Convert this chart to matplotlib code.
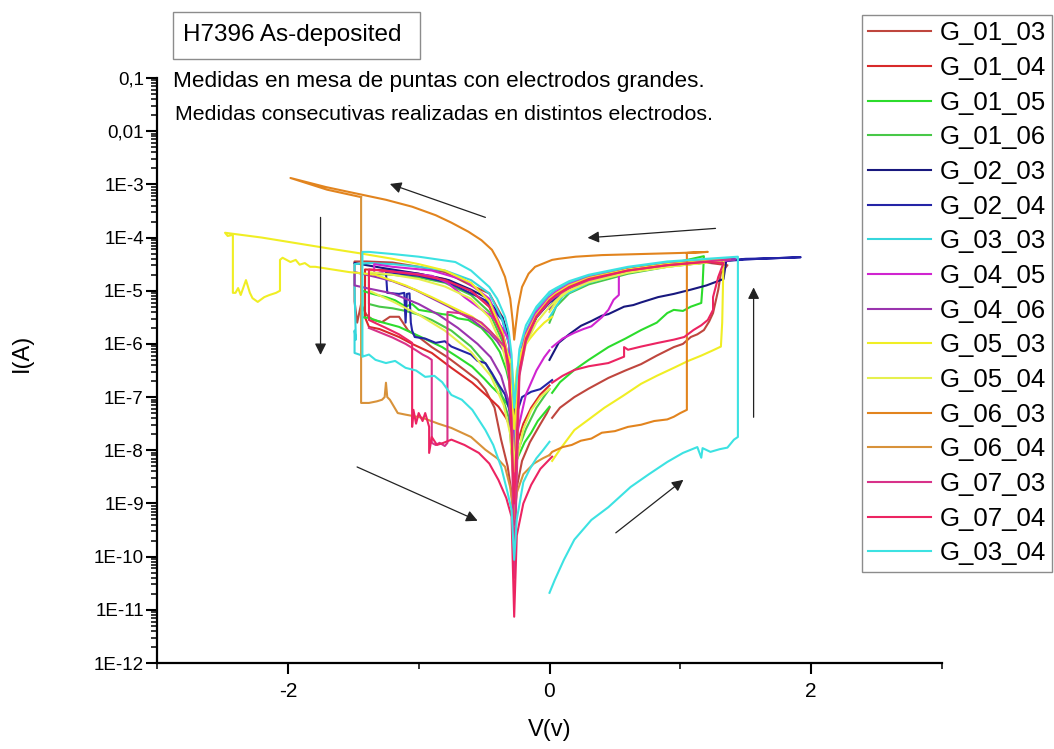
import matplotlib
matplotlib.use('Agg')
import matplotlib.pyplot as plt
import numpy as np
from matplotlib.ticker import LogLocator, NullFormatter
from matplotlib.patches import Rectangle

# I-V loops, one list of (V, log10 I) points per electrode
g_01_03 = [
    (0.02, -7.39), (0.08, -7.20), (0.19, -7.00), (0.30, -6.84), (0.45, -6.64), (0.58, -6.50), (0.70, -6.38),
    (0.82, -6.22), (0.95, -6.06), (1.02, -6.00), (1.08, -5.87), (1.13, -5.82), (1.18, -5.74), (1.22, -5.58),
    (1.25, -5.42), (1.29, -4.98), (1.31, -4.67), (1.36, -4.52),
    (1.20, -4.47), (0.90, -4.54), (0.60, -4.64), (0.30, -4.81), (0.15, -4.96), (0.05, -5.12), (0.00, -5.22),
    (-0.10, -5.50), (-0.18, -5.88), (-0.23, -6.40), (-0.27, -8.60), (-0.31, -5.90), (-0.36, -5.50),
    (-0.46, -5.05), (-0.60, -4.90), (-0.80, -4.65), (-1.00, -4.55), (-1.20, -4.47), (-1.40, -4.45), (-1.49, -4.45),
    (-1.49, -5.20), (-1.47, -5.60), (-1.44, -5.25), (-1.40, -5.45), (-1.35, -5.55), (-1.28, -5.59), (-1.22, -5.49),
    (-1.15, -5.49), (-1.08, -5.75), (-1.00, -5.87), (-0.90, -6.06), (-0.78, -6.25), (-0.65, -6.49), (-0.55, -6.68),
    (-0.49, -6.86), (-0.42, -7.20), (-0.37, -7.80), (-0.32, -8.30), (-0.29, -8.80), (-0.27, -9.40), (-0.25, -8.70),
    (-0.21, -8.20), (-0.15, -7.85), (-0.08, -7.55), (-0.02, -7.30), (0.00, -7.20),
]
g_01_04 = [
    (1.36, -4.43), (1.20, -4.46), (0.90, -4.52), (0.60, -4.60), (0.30, -4.76), (0.15, -4.90), (0.05, -5.05),
    (0.00, -5.15), (-0.10, -5.45), (-0.18, -5.85), (-0.23, -6.35), (-0.27, -7.90), (-0.31, -6.40), (-0.36, -5.85),
    (-0.46, -5.30), (-0.60, -5.00), (-0.80, -4.78), (-1.00, -4.68), (-1.20, -4.62), (-1.41, -4.60),
    (-1.41, -5.50), (-1.38, -5.68), (-1.30, -5.72), (-1.22, -5.80), (-1.15, -5.87), (-1.05, -6.00), (-0.90, -6.17),
    (-0.75, -6.45), (-0.59, -6.73), (-0.49, -6.95), (-0.39, -7.18), (-0.33, -7.40), (-0.29, -7.62), (-0.27, -8.40),
    (-0.25, -7.90), (-0.20, -7.50), (-0.14, -7.20), (-0.07, -6.95), (0.00, -6.78),
]
g_01_05 = [
    (0.02, -6.92), (0.08, -6.72), (0.19, -6.49), (0.30, -6.30), (0.45, -6.06), (0.58, -5.90), (0.70, -5.74),
    (0.82, -5.60), (0.90, -5.42), (0.95, -5.36), (1.02, -5.38), (1.08, -5.30), (1.16, -5.23), (1.17, -4.90),
    (1.18, -4.35),
    (1.00, -4.45), (0.80, -4.52), (0.60, -4.60), (0.30, -4.76), (0.15, -4.90), (0.05, -5.05), (0.00, -5.15),
    (-0.10, -5.45), (-0.18, -5.90), (-0.23, -6.40), (-0.27, -7.40), (-0.29, -6.90), (-0.33, -6.49), (-0.38, -6.15),
    (-0.44, -5.92), (-0.52, -5.70), (-0.62, -5.55), (-0.70, -5.52), (-0.75, -5.46), (-0.82, -5.44), (-0.90, -5.40),
    (-1.00, -5.36), (-1.05, -5.25), (-1.10, -5.30), (-1.18, -5.18), (-1.25, -5.12), (-1.32, -5.08), (-1.38, -5.04),
    (-1.43, -5.00),
    (-1.43, -5.50), (-1.38, -5.51), (-1.30, -5.58), (-1.15, -5.68), (-1.00, -5.85), (-0.82, -6.06), (-0.70, -6.25),
    (-0.59, -6.43), (-0.50, -6.65), (-0.44, -6.81), (-0.36, -7.00), (-0.31, -7.18), (-0.28, -7.50), (-0.27, -8.30),
    (-0.24, -8.12), (-0.19, -7.85), (-0.14, -7.67), (-0.09, -7.45), (-0.04, -7.30), (0.00, -7.18),
]
g_01_06 = [
    (0.00, -5.60), (0.05, -5.30), (0.15, -5.05), (0.30, -4.88), (0.60, -4.68), (0.90, -4.55), (1.20, -4.47),
    (1.42, -4.42),
    (1.20, -4.45), (0.90, -4.52), (0.60, -4.62), (0.30, -4.80), (0.15, -4.95), (0.05, -5.10), (0.00, -5.20),
    (-0.10, -5.50), (-0.18, -5.92), (-0.23, -6.45), (-0.27, -8.10), (-0.31, -6.50), (-0.36, -5.95), (-0.46, -5.40),
    (-0.60, -5.08), (-0.80, -4.85), (-1.00, -4.75), (-1.20, -4.70), (-1.38, -4.68),
    (-1.38, -5.25), (-1.30, -5.30), (-1.20, -5.33), (-1.10, -5.38), (-1.00, -5.45), (-0.90, -5.55), (-0.75, -5.75),
    (-0.60, -6.05), (-0.48, -6.40), (-0.38, -6.85), (-0.31, -7.40), (-0.27, -8.60), (-0.24, -8.00), (-0.18, -7.60),
    (-0.10, -7.20), (-0.03, -6.95), (0.00, -6.85),
]
g_02_03 = [
    (0.00, -6.30), (0.07, -5.98), (0.15, -5.82), (0.24, -5.66), (0.32, -5.57), (0.40, -5.47), (0.45, -5.44),
    (0.57, -5.30), (0.64, -5.27), (0.70, -5.22), (0.83, -5.12), (0.95, -5.06), (1.08, -4.98), (1.20, -4.90),
    (1.33, -4.78), (1.35, -4.45),
    (1.20, -4.47), (0.90, -4.52), (0.60, -4.62), (0.30, -4.78), (0.15, -4.92), (0.05, -5.08), (0.00, -5.17),
    (-0.10, -5.45), (-0.18, -5.85), (-0.23, -6.35), (-0.27, -7.40), (-0.31, -5.90), (-0.36, -5.50), (-0.49, -5.12),
    (-0.60, -4.98), (-0.77, -4.80), (-1.00, -4.68), (-1.28, -4.57), (-1.49, -4.48),
]
g_02_04 = [
    (0.00, -5.30), (0.10, -5.00), (0.30, -4.75), (0.60, -4.58), (1.00, -4.48), (1.40, -4.42), (1.50, -4.40),
    (1.70, -4.39), (1.92, -4.37),
    (1.60, -4.40), (1.20, -4.46), (0.90, -4.53), (0.60, -4.63), (0.30, -4.80), (0.15, -4.95), (0.05, -5.12),
    (0.00, -5.22), (-0.10, -5.50), (-0.18, -5.90), (-0.23, -6.45), (-0.27, -7.80), (-0.31, -6.00), (-0.36, -5.55),
    (-0.49, -5.18), (-0.77, -4.85), (-1.00, -4.72), (-1.25, -4.65),
    (-1.24, -5.04), (-1.15, -5.06), (-1.11, -5.04), (-1.10, -5.60), (-1.09, -5.06), (-1.07, -5.05), (-1.06, -5.60),
    (-1.05, -5.75), (-1.03, -5.87), (-0.95, -5.90), (-0.87, -5.98), (-0.80, -5.95), (-0.75, -6.05), (-0.69, -6.11),
    (-0.60, -6.20), (-0.55, -6.32), (-0.49, -6.36), (-0.44, -6.55), (-0.40, -6.72), (-0.34, -6.95), (-0.30, -7.30),
    (-0.27, -7.90), (-0.25, -7.30), (-0.21, -7.00), (-0.14, -6.90), (-0.07, -6.85), (0.02, -6.68),
]
g_03_03 = [
    (0.00, -5.50), (0.10, -5.10), (0.30, -4.85), (0.60, -4.65), (1.00, -4.50), (1.42, -4.40),
    (1.20, -4.42), (0.90, -4.48), (0.60, -4.57), (0.30, -4.72), (0.15, -4.85), (0.05, -4.98), (0.00, -5.07),
    (-0.10, -5.35), (-0.18, -5.75), (-0.23, -6.25), (-0.27, -8.00), (-0.31, -6.00), (-0.36, -5.55), (-0.46, -5.05),
    (-0.60, -4.80), (-0.80, -4.62), (-1.00, -4.55), (-1.20, -4.50), (-1.38, -4.48), (-1.49, -4.50),
    (-1.49, -4.98), (-1.48, -5.92), (-1.49, -5.75), (-1.49, -6.17), (-1.43, -6.22),
]
g_03_04 = [
    (0.00, -10.68), (0.04, -10.44), (0.11, -10.06), (0.19, -9.68), (0.32, -9.31), (0.45, -9.07), (0.62, -8.69),
    (0.76, -8.45), (0.90, -8.22), (1.02, -8.05), (1.13, -7.94), (1.16, -8.14), (1.17, -7.96), (1.23, -8.03),
    (1.30, -7.98), (1.36, -7.95), (1.41, -7.80), (1.44, -7.75), (1.44, -4.36),
    (1.20, -4.40), (0.90, -4.45), (0.60, -4.55), (0.30, -4.70), (0.15, -4.82), (0.05, -4.95), (0.00, -5.02),
    (-0.10, -5.30), (-0.18, -5.65), (-0.23, -6.10), (-0.27, -7.20), (-0.29, -6.20), (-0.31, -5.80), (-0.34, -5.49),
    (-0.40, -5.15), (-0.46, -4.93), (-0.60, -4.62), (-0.72, -4.46), (-1.00, -4.36), (-1.20, -4.31), (-1.38, -4.27),
    (-1.43, -4.27),
    (-1.43, -6.24), (-1.38, -6.20), (-1.33, -6.30), (-1.25, -6.36), (-1.18, -6.32), (-1.10, -6.45), (-1.02, -6.50),
    (-0.95, -6.62), (-0.88, -6.60), (-0.82, -6.72), (-0.75, -6.96), (-0.67, -7.05), (-0.59, -7.24), (-0.49, -7.62),
    (-0.43, -7.90), (-0.37, -8.31), (-0.32, -8.80), (-0.29, -9.12), (-0.27, -10.06), (-0.25, -9.30), (-0.20, -8.60),
    (-0.15, -8.35), (-0.10, -8.15), (-0.05, -8.00), (0.00, -7.84),
]
g_04_05 = [
    (0.02, -6.06), (0.10, -5.90), (0.19, -5.79), (0.26, -5.72), (0.32, -5.67), (0.40, -5.50), (0.45, -5.36),
    (0.49, -5.17), (0.53, -5.08), (0.53, -4.70), (0.70, -4.58), (1.00, -4.50), (1.40, -4.42),
    (1.20, -4.45), (0.90, -4.50), (0.60, -4.60), (0.30, -4.75), (0.15, -4.88), (0.05, -5.02), (0.00, -5.12),
    (-0.10, -5.40), (-0.18, -5.80), (-0.23, -6.30), (-0.27, -8.60), (-0.31, -6.30), (-0.36, -5.75), (-0.46, -5.15),
    (-0.65, -4.80), (-0.90, -4.62), (-1.20, -4.55), (-1.34, -4.50),
    (-1.34, -4.72), (-1.30, -4.66), (-1.25, -4.63), (-1.10, -4.66), (-0.90, -4.72), (-0.78, -4.85), (-0.65, -5.12),
    (-0.55, -5.30), (-0.44, -5.49), (-0.36, -5.70), (-0.31, -5.92), (-0.28, -6.80), (-0.27, -9.20), (-0.24, -7.60),
    (-0.18, -6.95), (-0.10, -6.50), (-0.04, -6.25), (0.00, -6.12),
]
g_04_06 = [
    (0.00, -5.35), (0.10, -5.00), (0.30, -4.78), (0.60, -4.60), (1.00, -4.48), (1.42, -4.41),
    (1.20, -4.44), (0.90, -4.50), (0.60, -4.60), (0.30, -4.77), (0.15, -4.92), (0.05, -5.07), (0.00, -5.18),
    (-0.10, -5.47), (-0.18, -5.88), (-0.23, -6.40), (-0.27, -8.30), (-0.30, -6.80), (-0.34, -6.17), (-0.40, -5.95),
    (-0.46, -5.79), (-0.59, -5.55), (-0.77, -5.30), (-1.03, -4.98), (-1.20, -4.82), (-1.33, -4.74), (-1.49, -4.65),
    (-1.49, -4.90), (-1.40, -4.95), (-1.20, -5.05), (-1.00, -5.25), (-0.85, -5.45), (-0.70, -5.70), (-0.55, -6.00),
    (-0.45, -6.25), (-0.37, -6.60), (-0.31, -7.10), (-0.27, -8.80),
]
g_05_03 = [
    (0.02, -8.20), (0.09, -7.95), (0.19, -7.62), (0.30, -7.42), (0.42, -7.20), (0.56, -6.98), (0.70, -6.75),
    (0.82, -6.60), (0.95, -6.45), (1.06, -6.32), (1.16, -6.22), (1.25, -6.12), (1.31, -6.05), (1.32, -5.60),
    (1.33, -4.42),
    (1.20, -4.44), (0.90, -4.50), (0.60, -4.60), (0.30, -4.76), (0.15, -4.90), (0.05, -5.05), (0.00, -5.15),
    (-0.10, -5.45), (-0.18, -5.85), (-0.23, -6.35), (-0.27, -7.60), (-0.31, -6.30), (-0.36, -5.78), (-0.46, -5.20),
    (-0.60, -4.85), (-0.80, -4.62), (-1.00, -4.50), (-1.20, -4.40), (-1.44, -4.30), (-1.70, -4.20), (-2.00, -4.08),
    (-2.20, -4.00), (-2.48, -3.91),
    (-2.46, -3.97), (-2.42, -3.95), (-2.42, -5.04), (-2.40, -5.04), (-2.38, -4.95), (-2.36, -5.08), (-2.32, -4.80),
    (-2.29, -5.04), (-2.27, -5.14), (-2.23, -5.21), (-2.18, -5.12), (-2.14, -5.08), (-2.09, -5.04), (-2.06, -5.00),
    (-2.06, -4.42), (-2.04, -4.38), (-1.98, -4.46), (-1.94, -4.42), (-1.91, -4.51), (-1.87, -4.48), (-1.83, -4.55),
    (-1.79, -4.55), (-1.53, -4.65), (-1.44, -4.67), (-1.33, -4.70), (-1.10, -4.90), (-0.90, -5.12), (-0.75, -5.30),
    (-0.59, -5.49), (-0.48, -5.70), (-0.39, -5.92), (-0.33, -6.15), (-0.29, -6.36), (-0.27, -7.00), (-0.25, -6.50),
    (-0.21, -6.11), (-0.15, -5.90), (-0.10, -5.75), (-0.04, -5.60), (0.02, -5.49),
]
g_05_04 = [
    (0.00, -5.40), (0.10, -5.05), (0.30, -4.82), (0.60, -4.64), (1.00, -4.52), (1.31, -4.44),
    (1.20, -4.47), (0.90, -4.55), (0.60, -4.66), (0.30, -4.84), (0.15, -5.00), (0.05, -5.18), (0.00, -5.30),
    (-0.10, -5.60), (-0.18, -6.00), (-0.23, -6.55), (-0.27, -8.40), (-0.31, -6.60), (-0.36, -6.05), (-0.46, -5.50),
    (-0.60, -5.15), (-0.80, -4.92), (-1.00, -4.78), (-1.20, -4.70), (-1.38, -4.65),
    (-1.38, -5.00), (-1.20, -5.20), (-1.00, -5.45), (-0.80, -5.75), (-0.60, -6.15), (-0.45, -6.60), (-0.35, -7.15),
    (-0.30, -7.70), (-0.27, -8.90), (-0.25, -8.20), (-0.20, -7.60), (-0.14, -7.25), (-0.07, -7.00), (0.00, -6.85),
]
g_06_03 = [
    (0.00, -8.09), (0.02, -8.03), (0.10, -7.94), (0.17, -7.90), (0.24, -7.82), (0.32, -7.78), (0.40, -7.67),
    (0.50, -7.64), (0.60, -7.56), (0.70, -7.52), (0.80, -7.45), (0.90, -7.42), (0.95, -7.37), (1.00, -7.30),
    (1.05, -7.24), (1.05, -4.29), (1.21, -4.27),
    (1.00, -4.29), (0.70, -4.31), (0.40, -4.33), (0.20, -4.36), (0.07, -4.40), (0.02, -4.42), (-0.06, -4.50),
    (-0.11, -4.55), (-0.16, -4.68), (-0.21, -4.93), (-0.24, -5.30), (-0.26, -5.70), (-0.27, -5.92), (-0.28, -5.60),
    (-0.30, -5.15), (-0.34, -4.74), (-0.39, -4.45), (-0.44, -4.23), (-0.52, -4.05), (-0.62, -3.89), (-0.75, -3.72),
    (-0.87, -3.58), (-1.05, -3.42), (-1.25, -3.29), (-1.50, -3.16), (-1.71, -3.05), (-1.98, -2.88), (-1.70, -3.10),
    (-1.44, -3.24),
]
g_06_04 = [
    (-1.44, -3.24), (-1.44, -7.11), (-1.38, -7.11), (-1.32, -7.08), (-1.28, -7.05), (-1.26, -7.00), (-1.25, -6.73),
    (-1.24, -7.00), (-1.22, -7.05), (-1.16, -7.30), (-1.10, -7.33), (-0.97, -7.39), (-0.85, -7.50), (-0.75, -7.58),
    (-0.60, -7.75), (-0.49, -7.99), (-0.40, -8.15), (-0.34, -8.31), (-0.30, -8.70), (-0.27, -9.30), (-0.25, -8.80),
    (-0.20, -8.45), (-0.12, -8.25), (-0.05, -8.15), (0.00, -8.09),
]
g_07_03 = [
    (1.38, -4.41), (1.20, -4.45), (0.90, -4.52), (0.60, -4.62), (0.30, -4.80), (0.15, -4.95), (0.05, -5.10),
    (0.00, -5.20), (-0.10, -5.50), (-0.18, -5.95), (-0.23, -6.60), (-0.27, -10.40), (-0.29, -7.40), (-0.31, -6.60),
    (-0.34, -6.06), (-0.40, -5.90), (-0.46, -5.74), (-0.52, -5.60), (-0.59, -5.51), (-0.69, -5.42), (-0.78, -5.40),
    (-0.78, -7.86), (-0.80, -7.92), (-0.84, -7.86), (-0.87, -7.90), (-0.90, -7.86), (-0.90, -6.30), (-0.93, -6.25),
    (-0.97, -6.20), (-1.02, -6.12), (-1.10, -6.00), (-1.20, -5.88), (-1.30, -5.78), (-1.38, -5.70),
]
g_07_04 = [
    (0.02, -6.73), (0.10, -6.60), (0.19, -6.49), (0.30, -6.42), (0.45, -6.36), (0.57, -6.24), (0.57, -6.06),
    (0.60, -6.11), (0.70, -6.05), (0.83, -5.98), (0.95, -5.92), (1.03, -5.87), (1.10, -5.74), (1.16, -5.65),
    (1.21, -5.55), (1.25, -5.36), (1.25, -5.12), (1.29, -4.74), (1.33, -4.48),
    (1.20, -4.46), (0.90, -4.52), (0.60, -4.62), (0.30, -4.78), (0.15, -4.93), (0.05, -5.08), (0.00, -5.18),
    (-0.10, -5.48), (-0.18, -5.90), (-0.23, -6.50), (-0.27, -9.00), (-0.31, -6.40), (-0.36, -5.85), (-0.46, -5.30),
    (-0.60, -5.00), (-0.80, -4.80), (-1.00, -4.70), (-1.20, -4.64), (-1.38, -4.60),
    (-1.38, -5.55), (-1.32, -5.62), (-1.25, -5.70), (-1.15, -5.82), (-1.05, -5.98), (-1.05, -7.56), (-1.04, -7.24),
    (-1.02, -7.50), (-1.00, -7.30), (-0.97, -7.45), (-0.95, -7.30), (-0.92, -7.56), (-0.92, -8.05), (-0.90, -7.75),
    (-0.86, -7.90), (-0.81, -7.86), (-0.75, -7.80), (-0.65, -7.90), (-0.54, -8.05), (-0.46, -8.25), (-0.39, -8.56),
    (-0.33, -8.90), (-0.29, -9.25), (-0.27, -11.13), (-0.25, -9.60), (-0.20, -9.00), (-0.14, -8.65), (-0.07, -8.35),
    (0.02, -8.12),
]

labels = ["G_01_03", "G_01_04", "G_01_05", "G_01_06", "G_02_03", "G_02_04", "G_03_03", "G_04_05",
          "G_04_06", "G_05_03", "G_05_04", "G_06_03", "G_06_04", "G_07_03", "G_07_04", "G_03_04"]
colors = ['#bf463e', '#d82a2a', '#2cdc2c', '#48c848', '#18187e', '#2424a6', '#36d6dc', '#d024d0',
          '#9a34ae', '#f0ee24', '#e6f04e', '#e2841e', '#d8923a', '#d8328a', '#ec2462', '#3ce2e2']
loops = [g_01_03, g_01_04, g_01_05, g_01_06, g_02_03, g_02_04, g_03_03, g_04_05,
         g_04_06, g_05_03, g_05_04, g_06_03, g_06_04, g_07_03, g_07_04, g_03_04]

plt.rcParams['font.family'] = 'Liberation Sans'

W, H = 1054, 749
fig = plt.figure(figsize=(W / 100, H / 100), dpi=100)
ax = fig.add_axes([157 / W, 1 - 663 / H, 785 / W, 585 / H])

for name, col, pts in zip(labels, colors, loops):
    v, e = np.array(pts).T
    ax.plot(v, 10.0 ** e, color=col, lw=1.5, label=name)

ax.set_yscale('log')
ax.set_xlim(-3, 3)
ax.set_ylim(1e-12, 0.1)

# decade ticks with the original comma / E notation
yticks = [10.0 ** k for k in range(-12, 0)]
ylabels = ['1E-12', '1E-11', '1E-10', '1E-9', '1E-8', '1E-7', '1E-6', '1E-5', '1E-4', '1E-3', '0,01', '0,1']
ax.set_yticks(yticks, ylabels)
ax.yaxis.set_minor_locator(LogLocator(base=10, subs=np.arange(2, 10), numticks=200))
ax.yaxis.set_minor_formatter(NullFormatter())
ax.set_xticks([-2, 0, 2], ['-2', '0', '2'])
ax.set_xticks([-3, -1, 1, 3], minor=True)
ax.tick_params(which='major', direction='out', length=8, width=1.5, labelsize=13.5)
ax.tick_params(axis='y', which='major', pad=1.5)
ax.tick_params(axis='x', which='major', labelsize=15, pad=6)
ax.tick_params(which='minor', direction='out', length=4, width=1.1)

for s in ['top', 'right']:
    ax.spines[s].set_visible(False)
for s in ['left', 'bottom']:
    ax.spines[s].set_linewidth(1.6)

ax.set_xlabel('V(v)', fontsize=17)
ax.xaxis.set_label_coords(0.5, -0.095)
ax.set_ylabel('I(A)', fontsize=17)
ax.yaxis.set_label_coords(-0.158, 0.53)

# sweep direction arrows
arrows = [((-0.47, 2.3e-4), (-1.24, 1.06e-3)),
          ((1.29, 1.5e-4), (0.27, 9.8e-5)),
          ((-1.75, 2.7e-4), (-1.75, 5.5e-7)),
          ((-1.49, 5.1e-9), (-0.53, 4.5e-10)),
          ((0.49, 2.6e-10), (1.04, 3.0e-9)),
          ((1.56, 3.7e-8), (1.56, 1.3e-5))]
for tail, head in arrows:
    ax.annotate('', xy=head, xytext=tail,
                arrowprops=dict(arrowstyle='-|>', color='#222222', lw=0.9, mutation_scale=17))

leg = ax.legend(loc='upper left', bbox_to_anchor=(862 / W, 1 - 15 / H), bbox_transform=fig.transFigure,
                fontsize=18.5, handlelength=2.45, handletextpad=0.32, labelspacing=0.415, borderpad=0.25,
                borderaxespad=0, fancybox=False, edgecolor='#8c8c8c', framealpha=1)
leg.get_frame().set_linewidth(1.0)

# title box and notes
fig.add_artist(Rectangle((173 / W, 1 - 59 / H), 247 / W, 47 / H, transform=fig.transFigure,
                         fill=False, edgecolor='#8c8c8c', lw=1.0))
fig.text(183 / W, 1 - 35 / H, 'H7396 As-deposited', fontsize=17.5, va='center')
fig.text(173 / W, 1 - 82 / H, 'Medidas en mesa de puntas con electrodos grandes.', fontsize=16.2, va='center')
fig.text(175 / W, 1 - 115 / H, 'Medidas consecutivas realizadas en distintos electrodos.', fontsize=15.4,
         va='center')

fig.savefig('out.png', dpi=100)
